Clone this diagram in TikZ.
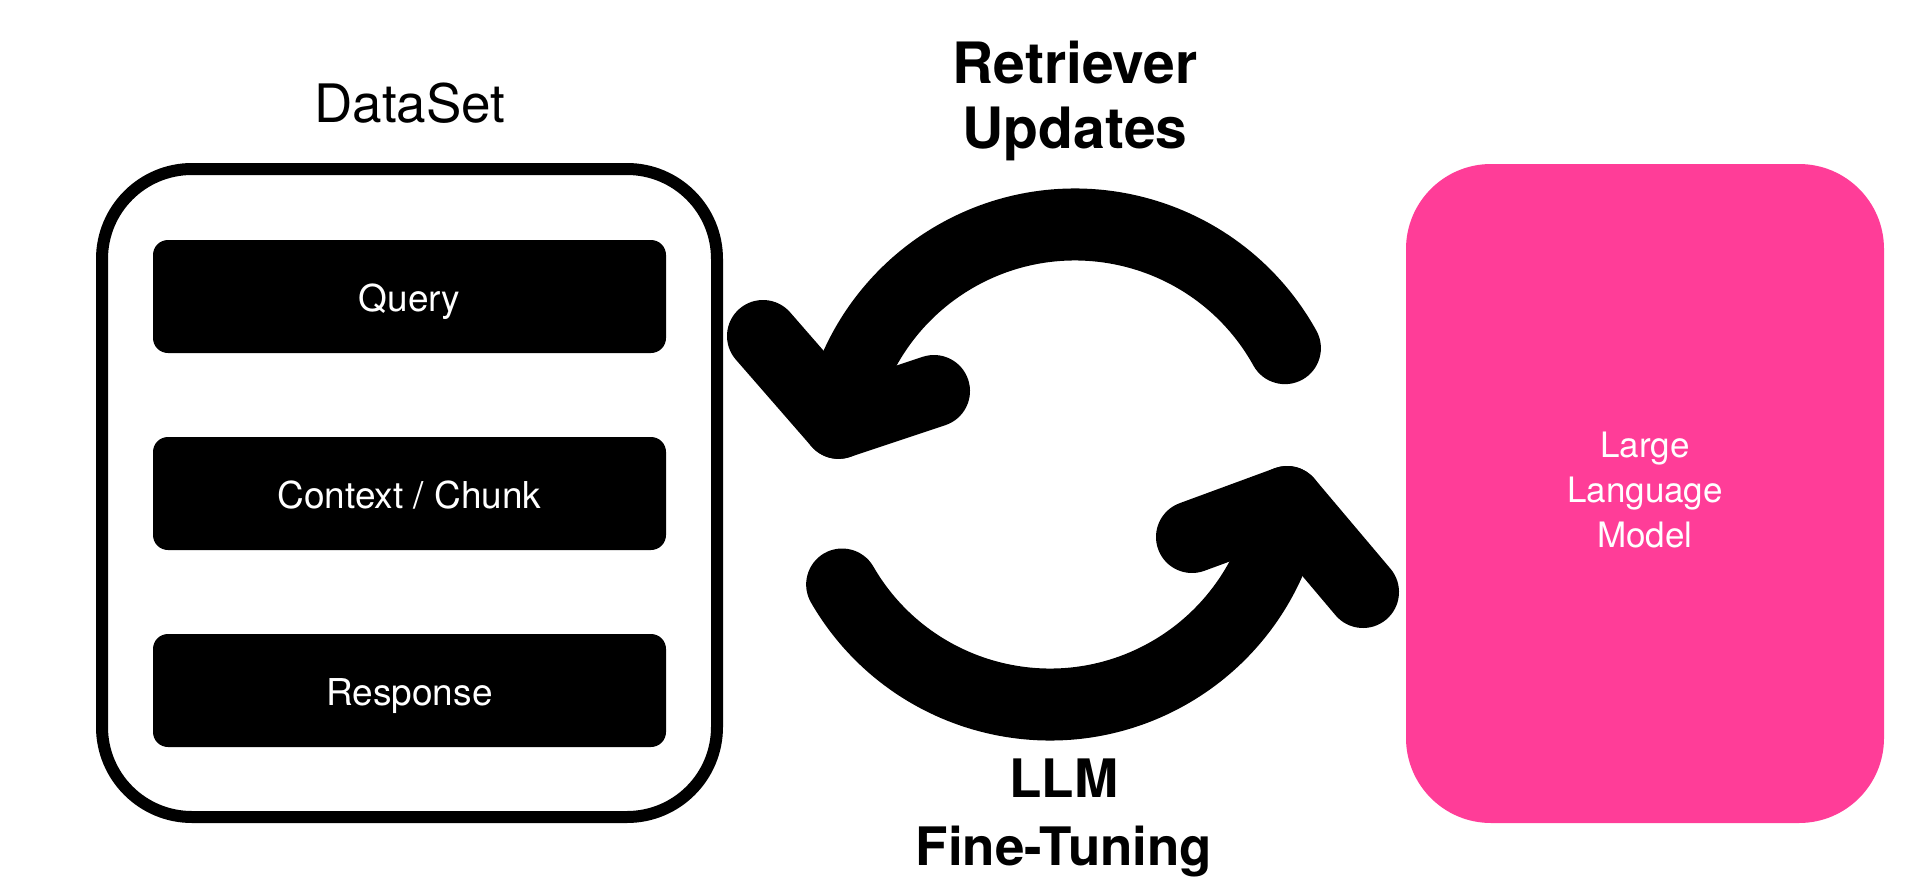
\documentclass[tikz,border=0pt]{standalone}
\usepackage{fontspec}
\usepackage{graphicx}
\setmainfont{TeX Gyre Heros}
\definecolor{llmpink}{RGB}{255,61,152}
\begin{document}
\begin{tikzpicture}[x=1pt,y=-1pt,
  dsitem/.style={fill=black, text=white, rounded corners=15pt, minimum width=513pt,
    minimum height=113pt, text height=30pt, text depth=0pt, inner sep=0pt,
    font=\fontsize{37}{44}\selectfont},
  bigarrow/.style={line width=72pt, line cap=round, line join=round},
  heading/.style={align=center, inner sep=0pt, anchor=base}]
\path[use as bounding box] (0,0) rectangle (1931,889);

% DataSet container
\node[draw=black, line width=12pt, rounded corners=90pt, minimum width=615pt,
  minimum height=648pt, inner sep=0pt] (dataset) at (409.5,493) {};
\node[font=\fontsize{53}{60}\selectfont, inner sep=0pt, anchor=base] (dstitle) at (410,122) {DataSet};
\node[dsitem] (query) at (409.5,296.5) {Query};
\node[dsitem] (context) at (409.5,493.5) {Context / Chunk};
\node[dsitem] (response) at (409.5,690.5) {Response};

% Large Language Model box
\node[fill=llmpink, rounded corners=85pt, minimum width=478pt, minimum height=659pt,
  inner sep=0pt, text=white, font=\fontsize{35}{45}\selectfont] (llm) at (1645,493.5)
  {\begin{tabular}{@{}c@{}}Large\\Language\\Model\end{tabular}};

% Top arrow (Retriever Updates)
\coordinate (tc) at (1075,464.5);
\coordinate (t-end) at ([shift={(29:240pt)}]tc);
\coordinate (t-tip) at ([shift={(170:240pt)}]tc);
\coordinate (t-armA) at (763,336);
\coordinate (t-armB) at (934,391);
\draw[bigarrow] (t-end) arc[start angle=29, end angle=170, radius=240pt];
\draw[bigarrow] (t-armA) -- (t-tip) -- (t-armB);

% Bottom arrow (LLM Fine-Tuning)
\coordinate (bc) at (1050,464.5);
\coordinate (b-end) at ([shift={(210:240pt)}]bc);
\coordinate (b-tip) at ([shift={(351:240pt)}]bc);
\coordinate (b-armA) at (1192,537);
\coordinate (b-armB) at (1363,592);
\draw[bigarrow] (b-end) arc[start angle=210, end angle=351, radius=240pt];
\draw[bigarrow] (b-armA) -- (b-tip) -- (b-armB);

% Labels
\node[heading, font=\fontsize{57}{65}\selectfont\bfseries] (retr) at (1075,148) {Retriever\\Updates};
\node[heading, font=\fontsize{53}{68}\selectfont\bfseries] (ft) at (1064,865) {LLM\\Fine-Tuning};
\end{tikzpicture}
\end{document}
